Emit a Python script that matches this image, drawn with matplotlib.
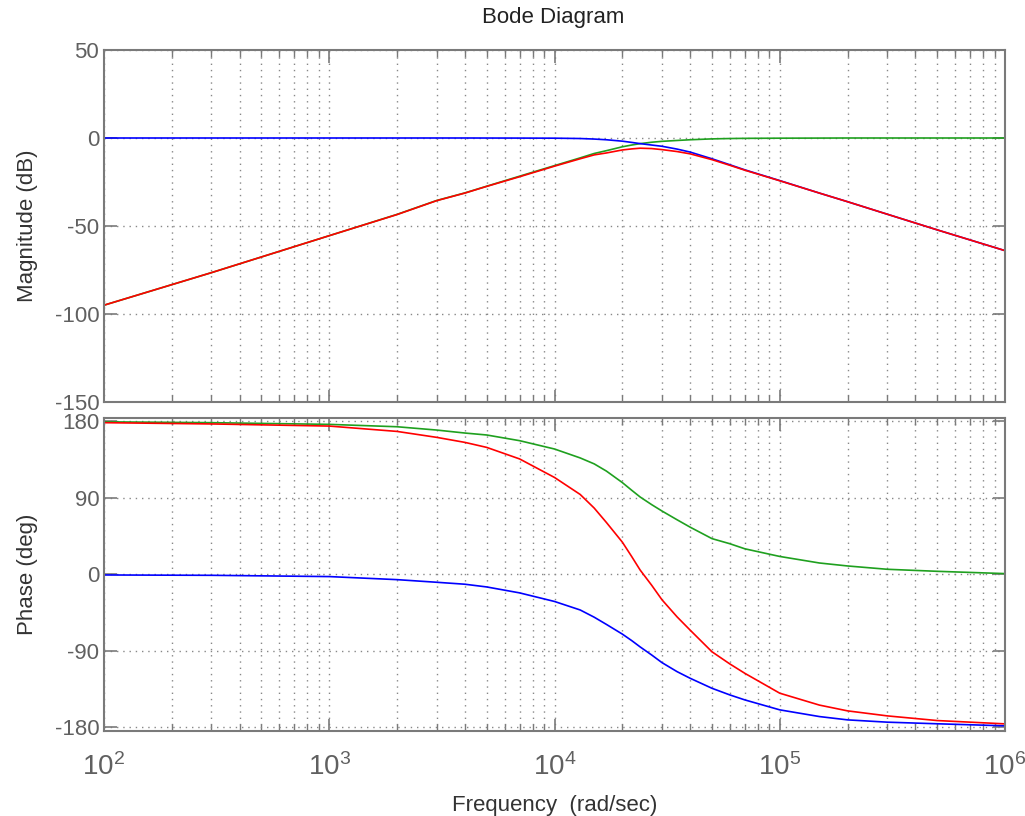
import numpy as np
import matplotlib
matplotlib.use("Agg")
import matplotlib.pyplot as plt
from matplotlib.ticker import LogLocator, NullFormatter, FixedLocator

# ---- data ----
freq = [1e2, 3e2, 1e3, 2e3, 3e3, 4e3, 5e3, 7e3, 1e4, 1.3e4, 1.5e4, 1.7e4, 2e4,
        2.2e4, 2.4e4, 2.7e4, 3e4, 3.5e4, 4e4, 5e4, 6e4, 7e4, 1e5, 1.5e5, 2e5,
        3e5, 5e5, 1e6]

mag_blue = [0, 0, 0, 0, 0, 0, -0.02, -0.05, -0.1, -0.3, -0.6, -1.0, -1.8,
            -2.5, -3.2, -4.0, -4.7, -6.3, -8.0, -11.8, -15.2, -18.1, -24.2,
            -31.3, -36.2, -43.3, -52.2, -64.0]
mag_green = [-95, -76.5, -55.5, -43.4, -35.5, -31.2, -27.4, -21.7, -15.7, -11.3,
             -8.8, -7.2, -5.0, -4.0, -3.2, -2.4, -1.9, -1.4, -1.0, -0.5, -0.3,
             -0.2, -0.1, -0.05, 0, 0, 0, 0]
mag_red = [-95, -76.5, -55.5, -43.5, -35.6, -31.3, -27.5, -22.0, -16.0, -11.8,
           -9.6, -8.5, -6.8, -6.2, -5.8, -6.0, -6.6, -7.7, -9.0, -12.3, -15.5,
           -18.3, -24.3, -31.3, -36.2, -43.3, -52.2, -64.0]

ph_blue = [-0.8, -1.2, -2.7, -6.3, -9.4, -11.7, -14.9, -21.9, -32.0, -42.0,
           -50.5, -59.0, -70.4, -78.0, -85.5, -95.0, -104.0, -114.6, -122.4,
           -134.2, -142.0, -147.9, -159.6, -167.5, -171.4, -174.1, -176.0, -178.4]
ph_green = [179.5, 178.5, 176.5, 173.7, 169.8, 166.3, 164.0, 157.3, 147.5, 137.0,
            130.0, 121.5, 108.0, 99.0, 91.0, 82.0, 74.5, 64.2, 55.5, 42.0, 36.0,
            30.0, 21.0, 13.3, 9.8, 5.9, 3.5, 0.8]
ph_red = [178.5, 177.0, 174.5, 168.2, 161.2, 155.3, 149.4, 135.8, 114.0, 94.0,
          78.0, 61.0, 37.9, 21.0, 5.0, -12.9, -30.0, -50.1, -65.7, -91.2,
          -105.5, -116.6, -140.0, -154.0, -160.8, -166.7, -172.2, -176.1]

mag_ticks = [-150, -100, -50, 0, 50]
ph_ticks = [-180, -90, 0, 90, 180]
x_ticks = [1e2, 1e3, 1e4, 1e5, 1e6]

C_BLUE = "#0000ff"
C_GREEN = "#1fa01f"
C_RED = "#ff0000"
GRAY = "#7a7a7a"

plt.rcParams['font.family'] = ['Liberation Sans', 'DejaVu Sans']
plt.rcParams['mathtext.fontset'] = 'custom'
plt.rcParams['mathtext.rm'] = 'Liberation Sans'
plt.rcParams['mathtext.it'] = 'Liberation Sans'

fig = plt.figure(figsize=(10.25, 8.16), dpi=100)
ax1 = fig.add_axes([104/1025, 1-402/816, 901/1025, 352/816])
ax2 = fig.add_axes([104/1025, 1-731/816, 901/1025, 313/816])


def style(ax):
    ax.set_xscale('log')
    ax.set_xlim(1e2, 1e6)
    ax.xaxis.set_major_locator(FixedLocator(x_ticks))
    ax.xaxis.set_minor_locator(LogLocator(base=10, subs=np.arange(2, 10), numticks=20))
    ax.xaxis.set_minor_formatter(NullFormatter())
    for s in ax.spines.values():
        s.set_color(GRAY)
        s.set_linewidth(1.5)
    ax.tick_params(which='both', direction='in', top=True, right=True,
                   colors=GRAY, labelcolor='#606060', labelsize=16)
    ax.tick_params(which='major', length=9, width=1.2)
    ax.tick_params(which='minor', length=5, width=1.0)
    ax.grid(True, which='major', axis='both', color='#888888', linestyle=(0, (1, 3.5)), linewidth=1.0)
    ax.grid(True, which='minor', axis='x', color='#888888', linestyle=(0, (1, 3.5)), linewidth=1.0)
    ax.set_axisbelow(True)


style(ax1)
style(ax2)

lw = 1.2
ax1.plot(freq, mag_green, color=C_GREEN, lw=lw)
ax1.plot(freq, mag_blue, color=C_BLUE, lw=lw)
ax1.plot(freq, mag_red, color=C_RED, lw=lw)
ax1.set_ylim(-150, 50)
ax1.set_yticks(mag_ticks)
ax1.set_yticklabels([str(t) for t in mag_ticks])
ax1.tick_params(axis='x', labelbottom=False)
ax1.set_ylabel('Magnitude (dB)', fontsize=16, color='#333333', labelpad=12)

ax2.plot(freq, ph_green, color=C_GREEN, lw=lw)
ax2.plot(freq, ph_blue, color=C_BLUE, lw=lw)
ax2.plot(freq, ph_red, color=C_RED, lw=lw)
ax2.set_ylim(-184.5, 184)
ax2.set_yticks(ph_ticks)
ax2.set_yticklabels([str(t) for t in ph_ticks])
ax2.set_ylabel('Phase (deg)', fontsize=16, color='#333333', labelpad=12)
ax2.set_xticklabels([r'$\mathregular{10^{%d}}$' % int(np.log10(v)) for v in x_ticks])
ax2.tick_params(axis='x', labelsize=20, pad=16)
ax2.set_xlabel('Frequency  (rad/sec)', fontsize=16, color='#333333', labelpad=10)

fig.text(553/1025, 1-17/816, 'Bode Diagram', ha='center', va='center', fontsize=16, color='#222222')

fig.savefig('out.png', dpi=100)
